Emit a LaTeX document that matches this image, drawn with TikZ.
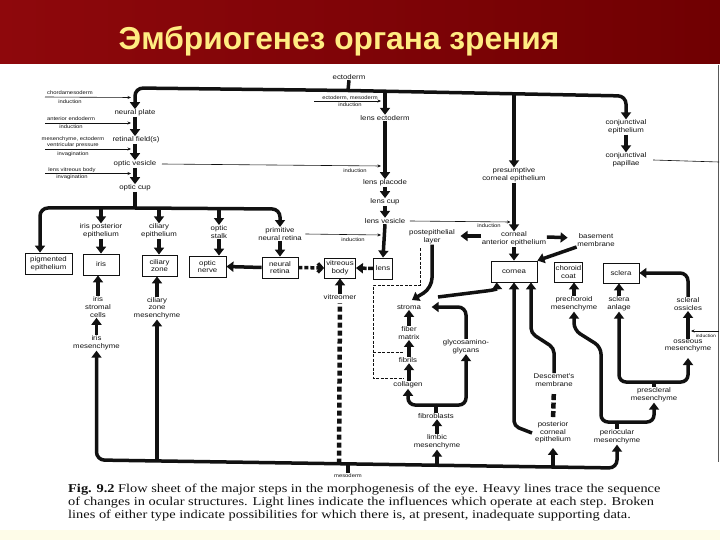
\documentclass[tikz,border=0pt]{standalone}
\usepackage{fontspec}
\setmainfont{Liberation Serif}
\newfontfamily\labf{Liberation Sans}[FakeStretch=1.15]
\newfontfamily\ttlf{Liberation Sans}
\newfontfamily\capf{Liberation Serif}[FakeStretch=1.2]
\usetikzlibrary{arrows.meta}
\definecolor{ttlyel}{RGB}{255,236,130}
\definecolor{barL}{RGB}{142,8,12}
\definecolor{barR}{RGB}{112,0,2}
\definecolor{ivory}{RGB}{254,252,232}
\definecolor{ink}{RGB}{17,17,17}
\begin{document}
\begin{tikzpicture}[x=1pt,y=-1pt,
 heavy/.style={line width=3.5pt, draw=ink},
 ha/.style={heavy, -{Triangle[length=7pt,width=10pt]}},
 thinar/.style={line width=0.6pt, draw=ink, -{Stealth[length=3.5pt,width=3pt]}},
 thinln/.style={line width=0.6pt, draw=ink},
 lbl/.style={font=\labf\fontsize{6.8}{7.6}\selectfont, align=center, inner sep=0.5pt, text=ink},
 sml/.style={font=\labf\fontsize{5.1}{6.2}\selectfont, align=center, inner sep=0.5pt, text=ink},
 bx/.style={draw=ink, line width=0.8pt, font=\labf\fontsize{6.8}{7.6}\selectfont, align=center, inner sep=0pt, text=ink},
 capt/.style={anchor=west, font=\capf\fontsize{12}{13}\selectfont, inner sep=0pt, text=ink}]
\useasboundingbox (0,0) rectangle (720,540);
% backgrounds
\fill[white] (0,64) rectangle (720,530);
\fill[ivory] (0,530) rectangle (720,540);
\shade[left color=barL, right color=barR] (0,0) rectangle (720,64);
\node[anchor=base, font=\ttlf\bfseries\fontsize{31.7}{36}\selectfont, text=ttlyel, inner sep=0] (title) at (339,49.5) {Эмбриогенез органа зрения};
\draw[line width=1pt, black!65] (718.6,65) -- (718.6,462);

% ---------- top part
\node[lbl] (ecto) at (349,77) {ectoderm};
\node[lbl] (np) at (135,113) {neural plate};
\node[lbl] (rf) at (136,140) {retinal field(s)};
\node[lbl] (ov) at (135,164) {optic vesicle};
\node[lbl] (oc) at (135,188) {optic cup};
\node[lbl] (le) at (385,118) {lens ectoderm};
\node[lbl] (lp) at (385,183) {lens placode};
\node[lbl] (lcup) at (385,202) {lens cup};
\node[lbl] (lves) at (385,221) {lens vesicle};
\node[lbl] (pce) at (514,175) {presumptive\\corneal epithelium};
\node[lbl] (ce) at (626,127) {conjunctival\\epithelium};
\node[lbl] (cp) at (626,160) {conjunctival\\papillae};

% induction labels on the left
\node[sml] (i1a) at (70,93) {chordamesoderm};
\node[sml] (i1b) at (70,101.5) {induction};
\node[sml] (i2a) at (71,119) {anterior endoderm};
\node[sml] (i2b) at (71,127) {induction};
\node[sml] (i3a) at (73,139) {mesenchyme, ectoderm};
\node[sml] (i3b) at (73,145) {ventricular pressure};
\node[sml] (i3c) at (73,154) {invagination};
\node[sml] (i4a) at (72,170) {lens vitreous body};
\node[sml] (i4b) at (72,177.5) {invagination};
\coordinate (i1s) at (45,97);   \coordinate (i1e) at (131,97.5);
\coordinate (i2s) at (45,123);  \coordinate (i2e) at (131,123);
\coordinate (i3s) at (45,149);  \coordinate (i3e) at (131,149);
\coordinate (i4s) at (45,173.5);\coordinate (i4e) at (131,173.5);
\draw[thinar] (i1s) -- (i1e);
\draw[thinar] (i2s) -- (i2e);
\draw[thinar] (i3s) -- (i3e);
\draw[thinar] (i4s) -- (i4e);

\node[sml] (iema) at (350,97.5) {ectoderm, mesoderm};
\node[sml] (iemb) at (350,105) {induction};
\coordinate (iems) at (314,101); \coordinate (ieme) at (381,101);
\draw[thinar] (iems) -- (ieme);

\node[sml] (i5) at (355,170.5) {induction};
\coordinate (i5e) at (381,166);
\draw[thinar] ([xshift=5pt]ov.east) -- (i5e);

% heavy top bar
\coordinate (tb) at (348,90.5);
\draw[heavy] (ecto.south) -- (tb);
\draw[ha, rounded corners=8pt] (tb) -- (135,88) -- (np.north);
\draw[ha, rounded corners=8pt] (tb) -- (626,96) -- (ce.north);
\coordinate (tbl) at (385,91);  \draw[ha] (tbl) -- (le.north);
\coordinate (tbc) at (514,93.3);\draw[ha] (tbc) -- (pce.north);
\draw[ha] (np.south) -- (np.south |- rf.north);
\draw[ha] (np.south |- rf.south) -- (ov.north);
\draw[ha] (ov.south) -- (oc.north);
\draw[ha] (le.south) -- (lp.north);
\draw[ha] (lp.south) -- (lcup.north);
\draw[ha] (lcup.south) -- (lves.north);
\draw[ha] (ce.south) -- (cp.north);
\coordinate (cpe) at (719,162);
\draw[thinln] ([xshift=6pt]cp.east) -- (cpe);

% ---------- optic cup bar and row of structures
\node[lbl] (ipe) at (101,231) {iris posterior\\epithelium};
\node[lbl] (cep) at (159,231) {ciliary\\epithelium};
\node[lbl] (ost) at (219,232) {optic\\stalk};
\node[lbl] (pnr) at (280,234) {primitive\\neural retina};

\node[bx, minimum width=47pt, minimum height=21pt] (bpe) at (48.5,263.5) {pigmented\\epithelium};
\node[bx, minimum width=36pt, minimum height=21pt] (bir) at (101,264.5) {iris};
\node[bx, minimum width=35pt, minimum height=21pt] (bcz) at (159.5,265.5) {ciliary\\zone};
\node[bx, minimum width=37pt, minimum height=21pt] (bon) at (207.5,266.5) {optic\\nerve};
\node[bx, minimum width=36pt, minimum height=21pt] (bnr) at (280,267.5) {neural\\retina};
\node[bx, minimum width=31pt, minimum height=20pt] (bvb) at (340,268) {vitreous\\body};
\node[bx, minimum width=19pt, minimum height=21pt] (bln) at (383,268.5) {lens};
\node[bx, minimum width=46pt, minimum height=21pt] (bco) at (514,271.5) {cornea};
\node[bx, minimum width=28pt, minimum height=20pt] (bcc) at (568.5,272) {choroid\\coat};
\node[bx, minimum width=36pt, minimum height=20pt] (bsc) at (621,273) {sclera};

\coordinate (ob) at (135,208);
\coordinate (obl) at (40,208);
\coordinate (obr) at (280,209);
\draw[heavy] (oc.south) -- (ob);
\draw[ha, rounded corners=8pt] (ob) -- (obl) -- (obl |- bpe.north);
\draw[ha, rounded corners=8pt] (ob) -- (obr) -- (pnr.north);
\coordinate (ob1) at (101,208.2); \draw[ha] (ob1) -- (ipe.north);
\coordinate (ob2) at (159,208.5); \draw[ha] (ob2) -- (cep.north);
\coordinate (ob3) at (219,208.7); \draw[ha] (ob3) -- (ost.north);
\draw[ha] (ipe.south) -- (bir.north);
\draw[ha] (cep.south) -- (cep.south |- bcz.north);
\draw[ha] (ost.south) -- (ost.south |- bon.north);
\draw[ha] (pnr.south) -- (bnr.north);
\draw[ha] (bnr.west) -- (bon.east);
\draw[heavy, dash pattern=on 4pt off 2pt, -{Straight Barb[length=4pt,width=9pt]}] (bnr.east) -- (bvb.west);
\draw[ha, dash pattern=on 5pt off 1.5pt] (bln.west) -- (bvb.east);
\draw[ha] (lves.south) -- (bln.north);

\node[sml] (i6) at (353,239.5) {induction};
\coordinate (i6e) at (381,235);
\draw[thinar] ([xshift=3pt]pnr.east) -- (i6e);
\node[sml] (i7) at (489,225.5) {induction};
\coordinate (i7e) at (510.5,222);
\draw[thinar] ([xshift=4pt]lves.east) -- (i7e);

% ---------- cornea region
\node[lbl] (cae) at (514,239) {corneal\\anterior epithelium};
\node[lbl] (bm) at (596,240) {basement\\membrane};
\node[lbl] (pel) at (432,237) {postepithelial\\layer};
\draw[ha] (pce.south) -- (cae.north);
\draw[ha] (cae.south) -- (bco.north);
\draw[ha, shorten >=5pt] ([yshift=3pt]cae.west) -- ([yshift=1pt]pel.east);
\draw[ha, shorten >=9pt] ([yshift=2pt]cae.east) -- ([yshift=2pt]bm.west);
\draw[ha] (bm.south west) -- (bco.north east);

\node[lbl] (str) at (409,307) {stroma};
\node[lbl] (fm) at (409,333) {fiber\\matrix};
\node[lbl] (fbr) at (408,360) {fibrils};
\node[lbl] (col) at (408,385) {collagen};
\node[lbl] (gly) at (466,346.5) {glycosamino-\\glycans};
\node[lbl] (fib) at (436,416) {fibroblasts};
\node[lbl] (lm) at (437,442) {limbic\\mesenchyme};

\draw[ha, rounded corners=10pt] (pel.south) -- (432,288) -- (412,300);
\draw[thinln, dash pattern=on 3pt off 1.5pt] (420,248) -- (420,285) -- (373,285) -- (373,378) -- (404,378);
\draw[thinln, dash pattern=on 3pt off 1.5pt] (373,352) -- (404,352);
\draw[ha] (fm.north) -- (fm.north |- str.south);
\draw[ha] (fm.south |- fbr.north) -- (fm.south);
\draw[ha] (fm.south |- col.north) -- (fm.south |- fbr.south);
\draw[ha] (lm.north) -- (lm.north |- fib.south);
\coordinate (fj) at (436,405);
\draw[heavy] (fib.north) -- (fj);
\draw[ha, rounded corners=7pt] (fj) -- (408,405) -- (col.south);
\draw[ha, rounded corners=7pt] (fj) -- (466,405) -- (gly.south);
\draw[ha, rounded corners=8pt] (gly.north) -- (466,307) -- ([xshift=10pt]str.east);
\coordinate (sc0) at (438,297);
\draw[ha] (sc0) -- (486,291) .. controls (494,290) and (497,289) .. ([xshift=6pt]bco.south west);

\node[lbl] (pce2) at (553,432.5) {posterior\\corneal\\epithelium};
\node[lbl] (dm) at (554,380) {Descemet's\\membrane};
\coordinate (pc0) at (532,433);
\draw[ha, rounded corners=5pt] (pc0) -- (514,426) -- (bco.south);
\draw[ha, rounded corners=5pt] (dm.north) -- (554,348) -- (531,333) -- ([xshift=17pt]bco.south);
\draw[heavy, line width=4.5pt, dash pattern=on 6pt off 2.5pt, shorten <=4pt, shorten >=5pt] (pce2.north) -- (dm.south);

% ---------- right side
\node[lbl] (pcm) at (574,304) {prechoroid\\mesenchyme};
\node[lbl] (sa) at (619,304) {sclera\\anlage};
\node[lbl] (so) at (688,304) {scleral\\ossicles};
\node[lbl] (om) at (688,346) {osseous\\mesenchyme};
\node[lbl] (psm) at (654,395) {prescleral\\mesenchyme};
\node[lbl] (pom) at (617,437) {periocular\\mesenchyme};

\draw[ha] (pcm.north) -- (pcm.north |- bcc.south);
\draw[ha] (sa.north) -- (sa.north |- bsc.south);
\draw[ha, rounded corners=8pt] (so.north) -- (688,273) -- (bsc.east);
\draw[ha] (om.north) -- (so.south);
\coordinate (pj) at (617,422);
\draw[heavy] (pom.north) -- (pj);
\draw[ha, rounded corners=7pt] (pj) -- (601,422) -- (601,347) -- (574,330) -- (pcm.south);
\draw[ha, rounded corners=7pt] (pj) -- (654,422) -- (psm.south);
\coordinate (sj) at (654,382);
\draw[heavy] (psm.north) -- (sj);
\draw[ha, rounded corners=7pt] (sj) -- (619,382) -- (sa.south);
\draw[ha, rounded corners=7pt, shorten >=5pt] (sj) -- (688,382) -- (om.south);
\coordinate (r1) at (719,331); \coordinate (r2) at (691,331);
\draw[thinar] (r1) -- (r2);
\node[font=\labf\fontsize{4.4}{5}\selectfont, text=ink, inner sep=0.3pt, anchor=east] (rind) at (716.5,335.5) {induction};

% ---------- left lower part
\node[lbl] (isc) at (98,307) {iris\\stromal\\cells};
\node[lbl] (im) at (96.5,343) {iris\\mesenchyme};
\node[lbl] (czm) at (157,308) {ciliary\\zone\\mesenchyme};
\node[lbl] (vit) at (340,297) {vitreomer};
\draw[ha] (isc.north) -- (isc.north |- bir.south);
\draw[ha] (im.north) -- (im.north |- isc.south);
\draw[ha] (czm.north) -- (czm.north |- bcz.south);
\draw[ha] (vit.north) -- (bvb.south);

% ---------- bottom mesoderm bar
\coordinate (bb1) at (96.5,460);
\coordinate (bb2) at (617,468);
\draw[heavy, {Triangle[length=7pt,width=10pt]}-{Triangle[length=7pt,width=10pt]}, rounded corners=8pt] (im.south) -- (bb1) -- (bb2) -- (pom.south);
\coordinate (bv1) at (157,461);   \draw[ha] (bv1) -- (czm.south);
\coordinate (bv2) at (339,463.7); \draw[heavy, line width=4.5pt, dash pattern=on 5pt off 3pt, shorten >=3pt] (bv2) -- (vit.south);
\coordinate (bv3) at (437,465.2); \draw[ha] (bv3) -- (lm.south);
\coordinate (bv4) at (553,467);   \draw[ha, shorten >=4pt] (bv4) -- (pce2.south);
\node[sml] (mes) at (348,476) {mesoderm};
\coordinate (bv5) at (348,464.5); \draw[heavy] (bv5) -- (mes.north);

% ---------- caption
\node[capt] (cap1) at (68,490) {\textbf{Fig. 9.2} Flow sheet of the major steps in the morphogenesis of the eye. Heavy lines trace the sequence};
\node[capt] (cap2) at (68,503) {of changes in ocular structures. Light lines indicate the influences which operate at each step. Broken};
\node[capt] (cap3) at (68,516) {lines of either type indicate possibilities for which there is, at present, inadequate supporting data.};
\end{tikzpicture}
\end{document}
